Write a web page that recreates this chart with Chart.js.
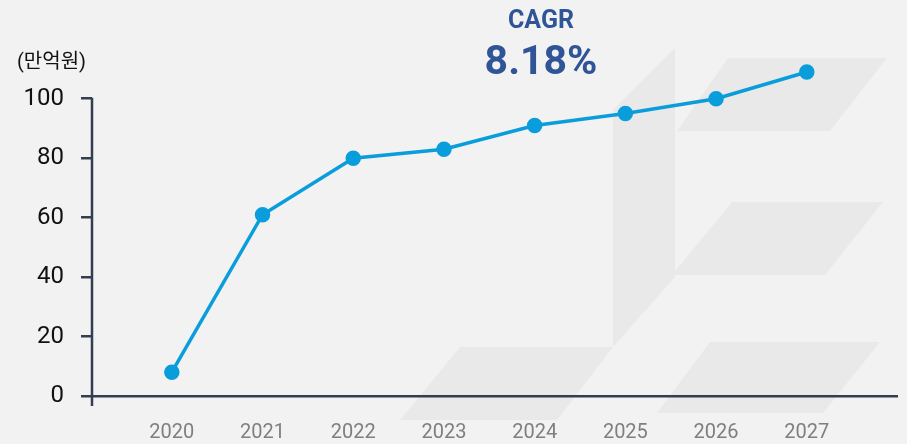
<!DOCTYPE html>
<html>
<head>
<meta charset="utf-8">
<script src="https://cdn.jsdelivr.net/npm/chart.js@4"></script>
<style>
  html, body { margin:0; padding:0; background:#f2f2f2; }
  #wrap { position:relative; width:907px; height:444px; }
  canvas { position:absolute; left:0; top:0; }
  .unit { position:absolute; left:17px; top:45px; font:20px Roboto, 'Noto Sans CJK KR', sans-serif; color:#111; }
  .cagr { position:absolute; left:441px; width:200px; text-align:center; font-family:Roboto, sans-serif; font-weight:bold; color:#2f5597; }
  .cagr.t { top:5px; font-size:25px; }
  .cagr.v { top:36px; font-size:41px; }
</style>
</head>
<body>
<div id="wrap">
  <canvas id="c" width="907" height="444"></canvas>
  <div class="unit">(만억원)</div>
  <div class="cagr t">CAGR</div>
  <div class="cagr v">8.18%</div>
</div>
<script>
const years = [2020, 2021, 2022, 2023, 2024, 2025, 2026, 2027];
const values = [8, 61, 80, 83, 91, 95, 100, 109];
const yTicks = [0, 20, 40, 60, 80, 100];

const AXIS = '#333f50', LINE = '#0a9ddb', SHAPE = '#e9e9e9';

// fond : formes grises en filigrane + axe vertical
const watermark = {
  id:'watermark',
  beforeDraw(chart){
    const ctx = chart.ctx;
    const shapes = [
      [[613,110],[675,48],[675,277],[613,347]],
      [[728,58],[887,58],[830,131],[677,131]],
      [[732,202],[883,202],[825,275],[672,275]],
      [[710,342],[880,342],[823,413],[657,413]],
      [[460,347],[613,347],[557,420],[400,420]]
    ];
    ctx.save();
    ctx.fillStyle = SHAPE;
    shapes.forEach(s=>{
      ctx.beginPath();
      s.forEach((p,i)=> i ? ctx.lineTo(p[0],p[1]) : ctx.moveTo(p[0],p[1]));
      ctx.closePath();
      ctx.fill();
    });
    ctx.restore();
  },
  afterDraw(chart){
    const {ctx, chartArea:a, scales} = chart;
    const top = scales.y.getPixelForValue(yTicks[yTicks.length-1]);
    ctx.save();
    ctx.strokeStyle = AXIS;
    ctx.lineWidth = 2.5;
    ctx.beginPath();
    ctx.moveTo(a.left, top - 1);
    ctx.lineTo(a.left, a.bottom + 10);
    ctx.stroke();
    ctx.restore();
  }
};

new Chart(document.getElementById('c'), {
  type:'line',
  data:{
    datasets:[{
      data: years.map((y,i)=>({x:y, y:values[i]})),
      borderColor: LINE,
      backgroundColor: LINE,
      borderWidth: 3.5,
      pointRadius: 6,
      pointHoverRadius: 6,
      clip: false,
      tension: 0
    }]
  },
  options:{
    responsive:false,
    animation:false,
    layout:{ padding:{ top:69, right:9, left:20, bottom:0 } },
    plugins:{ legend:{ display:false }, tooltip:{ enabled:false } },
    scales:{
      x:{
        type:'linear',
        min:2019.12, max:2028.0,
        afterBuildTicks: s => { s.ticks = years.map(v=>({value:v})); },
        afterFit: s => { s.height = 48; },
        grid:{ display:false },
        border:{ color:AXIS, width:2.5 },
        ticks:{ color:'#7f7f7f', padding:17, font:{ family:'Roboto', size:20 }, callback: v => String(v) }
      },
      y:{
        min:0, max:110,
        afterBuildTicks: s => { s.ticks = yTicks.map(v=>({value:v})); },
        afterFit: s => { s.width = 72; },
        grid:{ drawOnChartArea:false, drawTicks:true, tickLength:11, color:AXIS, lineWidth:2.5 },
        border:{ display:false },
        ticks:{ color:'#111', padding:17, font:{ family:'Roboto', size:24 } }
      }
    }
  },
  plugins:[watermark]
});
</script>
</body>
</html>
